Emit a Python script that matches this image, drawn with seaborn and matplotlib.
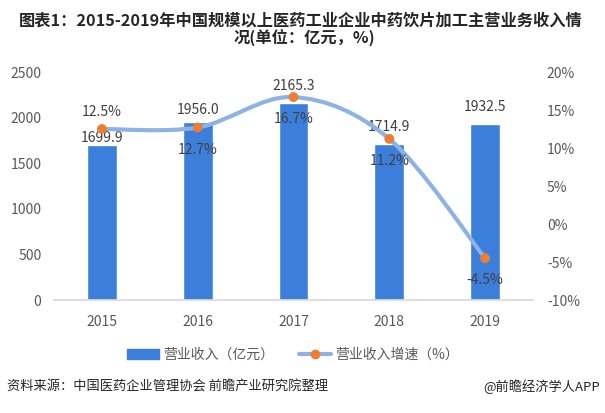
import matplotlib
matplotlib.use("Agg")
import matplotlib.pyplot as plt
import seaborn as sns
import numpy as np
import pandas as pd
from matplotlib.path import Path
from matplotlib.patches import PathPatch, Rectangle
from matplotlib.lines import Line2D

years = ["2015", "2016", "2017", "2018", "2019"]
revenue = [1699.9, 1956.0, 2165.3, 1714.9, 1932.5]
growth = [12.5, 12.7, 16.7, 11.2, -4.5]
left_ticks = [0, 500, 1000, 1500, 2000, 2500]
right_ticks = [-10, -5, 0, 5, 10, 15, 20]

sns.set_theme(style="white")
plt.rcParams['font.family'] = ['Noto Sans CJK SC', 'DejaVu Sans']

fig = plt.figure(figsize=(6.05, 4.13), dpi=100)
ax = fig.add_axes([54/605, 1-300/413, (533-54)/605, (300-72)/413])

df = pd.DataFrame({"year": years, "revenue": revenue, "growth": growth})
bar_color = "#3C7FDB"
sns.barplot(data=df, x="year", y="revenue", color=bar_color, width=0.31,
            saturation=1, ax=ax, zorder=2)
ax.set_xlim(-0.5, 4.5)
ax.set_ylim(0, 2500)
ax.set_yticks(left_ticks)
ax.set_yticklabels([str(t) for t in left_ticks])
ax.set_xlabel("")
ax.set_ylabel("")
for s in ["top", "right", "left"]:
    ax.spines[s].set_visible(False)
ax.spines["bottom"].set_color("#D9D9D9")
ax.tick_params(axis="x", length=0, labelsize=10, colors="#595959", pad=11)
ax.tick_params(axis="y", length=0, labelsize=10, colors="#595959", pad=9)

ax2 = ax.twinx()
ax2.set_ylim(-10, 20)
ax2.set_yticks(right_ticks)
ax2.set_yticklabels([f"{t}%" for t in right_ticks])
for s in ax2.spines.values():
    s.set_visible(False)
ax2.tick_params(axis="y", length=0, labelsize=10, colors="#595959", pad=10)

# smooth line through growth points (Catmull-Rom style Bezier rendering)
xs = np.arange(len(growth), dtype=float)
ys = np.array(growth, dtype=float)
verts = [(xs[0], ys[0])]
codes = [Path.MOVETO]
t = 1/6
n = len(xs)
for i in range(n - 1):
    p0 = (xs[max(i-1, 0)], ys[max(i-1, 0)])
    p1 = (xs[i], ys[i])
    p2 = (xs[i+1], ys[i+1])
    p3 = (xs[min(i+2, n-1)], ys[min(i+2, n-1)])
    c1 = (p1[0] + (p2[0]-p0[0])*t, p1[1] + (p2[1]-p0[1])*t)
    c2 = (p2[0] - (p3[0]-p1[0])*t, p2[1] - (p3[1]-p1[1])*t)
    verts += [c1, c2, p2]
    codes += [Path.CURVE4]*3
line_color = "#8DB3E5"
patch = PathPatch(Path(verts, codes), facecolor="none", edgecolor=line_color,
                  lw=3.0, capstyle="round", zorder=3)
ax2.add_patch(patch)
sns.scatterplot(x=xs, y=ys, ax=ax2, color="#ED7D31", s=50, edgecolor="none",
                zorder=4, legend=False)

# labels
tc = "#404040"
rev_off = [0, 3, 7, 7, 7]
for i, v in enumerate(revenue):
    ax.annotate(f"{v:.1f}", (i, v), xytext=(0, rev_off[i]), textcoords="offset points",
                ha="center", va="bottom", fontsize=10, color=tc, zorder=5)
g_off = [7, -11, -11, -11, -11]
for i, v in enumerate(growth):
    o = g_off[i]
    ax2.annotate(f"{v}%", (i, v), xytext=(0, o), textcoords="offset points",
                 ha="center", va="bottom" if o > 0 else "top", fontsize=10,
                 color=tc, zorder=5)

# title
fig.text(301/605, 1-20/413, "图表1：2015-2019年中国规模以上医药工业企业中药饮片加工主营业务收入情",
         ha="center", va="center", fontsize=11.7, fontweight="bold", color="#262626")
fig.text(304/605, 1-38/413, "况(单位：亿元，%)", ha="center", va="center",
         fontsize=11.7, fontweight="bold", color="#262626")

# legend
h1 = Rectangle((0, 0), 1, 1, color=bar_color)
h2 = Line2D([0], [0], color=line_color, lw=3.0, marker="o", markersize=6,
            markerfacecolor="#ED7D31", markeredgecolor="#ED7D31")
fig.legend([h1, h2], ["营业收入（亿元）", "营业收入增速（%）"], loc="center",
           bbox_to_anchor=(293/605, 1-355/413), ncol=2, frameon=False, fontsize=10,
           labelcolor="#595959", handlelength=2.3, columnspacing=1.8,
           handletextpad=0.3)

# footer
fig.text(7/605, 1-387/413, "资料来源：中国医药企业管理协会 前瞻产业研究院整理",
         ha="left", va="center", fontsize=9.5, color="#262626")
fig.text(600/605, 1-387/413, "@前瞻经济学人APP", ha="right", va="center",
         fontsize=9.5, color="#262626")

fig.savefig("out.png", dpi=100)
